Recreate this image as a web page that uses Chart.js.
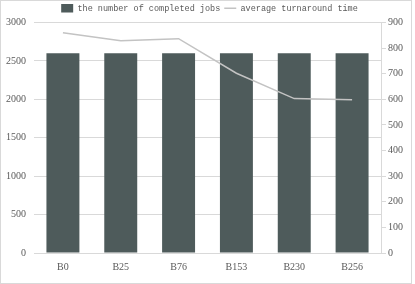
<!DOCTYPE html>
<html>
<head>
<meta charset="utf-8">
<script src="https://cdn.jsdelivr.net/npm/chart.js@4"></script>
<style>
  html, body { margin: 0; padding: 0; background: #fff; }
  #wrap { position: absolute; left: 0; top: 0; width: 410px; height: 282px; border: 1px solid #d9d9d9; }
</style>
</head>
<body>
<div id="wrap"><canvas id="myChart"></canvas></div>
<script>
// data
const categories = ['B0', 'B25', 'B76', 'B153', 'B230', 'B256'];
const completedJobs = [2600, 2600, 2600, 2600, 2600, 2600];
const turnaroundTime = [860, 829, 837, 702, 603, 598];
const leftTicks = [0, 500, 1000, 1500, 2000, 2500, 3000];
const rightTicks = [0, 100, 200, 300, 400, 500, 600, 700, 800, 900];

const LEGEND_FONT = { family: '"Liberation Mono", "DejaVu Sans Mono", monospace', size: 8.5 };
const TICK_FONT = { family: '"Liberation Serif", "DejaVu Serif", serif', size: 10 };
const TEXT = '#595959';
const GRID = '#d9d9d9';

// nudge the legend a bit to the right, like the original
const shiftLegend = {
    id: 'shiftLegend',
    afterLayout(chart) {
        chart.legend.left += 8;
        chart.legend.right += 8;
    }
};

new Chart(document.getElementById('myChart').getContext('2d'), {
    type: 'bar',
    data: {
        labels: categories,
        datasets: [{
            type: 'line',
            label: 'average turnaround time',
            data: turnaroundTime,
            yAxisID: 'y2',
            borderColor: '#c3c3c3',
            backgroundColor: '#c3c3c3',
            borderWidth: 1.5,
            pointRadius: 0,
            pointStyle: 'line',
            tension: 0,
            order: 0
        }, {
            label: 'the number of completed jobs',
            data: completedJobs,
            yAxisID: 'y',
            backgroundColor: '#4e5b5b',
            pointStyle: 'rect',
            categoryPercentage: 0.57,
            barPercentage: 1,
            order: 1
        }]
    },
    options: {
        responsive: true,
        maintainAspectRatio: false,
        animation: false,
        layout: { padding: { left: -3, right: 6, top: -1, bottom: 2 } },
        plugins: {
            legend: {
                position: 'top',
                reverse: true,
                labels: {
                    font: LEGEND_FONT,
                    color: TEXT,
                    usePointStyle: true,
                    pointStyleWidth: 12,
                    boxHeight: 10,
                    padding: 4
                }
            },
            tooltip: { enabled: false }
        },
        scales: {
            x: {
                grid: { display: false, drawTicks: false },
                border: { display: true, color: GRID },
                ticks: { font: TICK_FONT, color: TEXT, padding: 8 }
            },
            y: {
                position: 'left',
                min: 0,
                max: 3000,
                afterBuildTicks: axis => { axis.ticks = leftTicks.map(v => ({ value: v })); },
                grid: { color: GRID, drawTicks: false },
                border: { display: false },
                ticks: { font: TICK_FONT, color: TEXT, padding: 8, callback: v => String(v) }
            },
            y2: {
                position: 'right',
                min: 0,
                max: 900,
                afterBuildTicks: axis => { axis.ticks = rightTicks.map(v => ({ value: v })); },
                grid: { drawOnChartArea: false, color: GRID, tickLength: 5 },
                border: { display: true, color: GRID },
                ticks: { font: TICK_FONT, color: TEXT, padding: 2, callback: v => String(v) }
            }
        }
    },
    plugins: [shiftLegend]
});
</script>
</body>
</html>
